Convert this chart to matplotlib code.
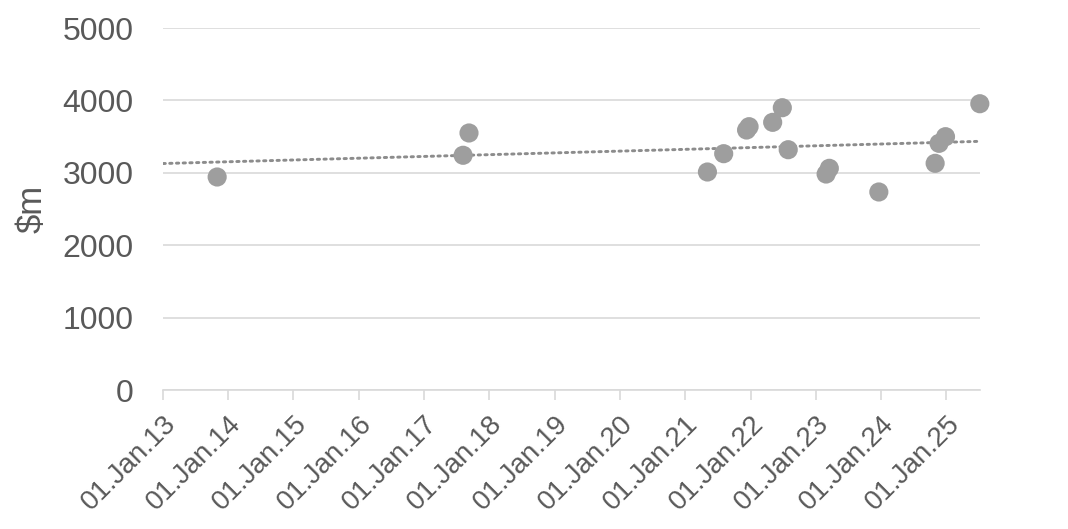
import matplotlib
matplotlib.use("Agg")
import matplotlib.pyplot as plt
import matplotlib.dates as mdates
import numpy as np
import pandas as pd

# data
dates = ["2013-10-31", "2017-08-07", "2017-09-09", "2021-05-05", "2021-08-04",
         "2021-12-10", "2021-12-24", "2022-05-05", "2022-06-28", "2022-07-31",
         "2023-02-28", "2023-03-18", "2023-12-20", "2024-10-30", "2024-11-21",
         "2024-12-27", "2025-07-07"]
values = [2942, 3242, 3550, 3011, 3264, 3591, 3637, 3697, 3899, 3319,
          2983, 3062, 2735, 3131, 3407, 3499, 3954]
x_start = "2013-01-01"
x_end = "2025-07-08"
y_ticks = [0, 1000, 2000, 3000, 4000, 5000]

plt.rcParams['font.family'] = ['Liberation Sans', 'DejaVu Sans']
text_col = '#595959'
grid_col = '#d9d9d9'

x = mdates.date2num(pd.to_datetime(dates))
y = np.array(values)
x0, x1 = mdates.date2num(pd.to_datetime([x_start, x_end]))

fig = plt.figure(figsize=(10.68, 5.29), dpi=100)
ax = fig.add_axes([163/1068, 1-390/529, (980-163)/1068, (390-28)/529])

# linear trendline
k, b = np.polyfit(x, y, 1)
tx = np.array([x0, x1])
ax.plot(tx, k*tx + b, color='#8c8c8c', lw=2.1, linestyle=(0, (0.8, 1.5)),
        dash_capstyle='round', zorder=2)

ax.scatter(x, y, s=190, color='#9e9e9e', edgecolors='none', zorder=3, clip_on=False)

ax.set_xlim(x0, x1)
ax.set_ylim(0, 5000)
ax.set_yticks(y_ticks)
ax.yaxis.grid(True, color=grid_col, lw=1.2)
ax.set_axisbelow(True)

ax.xaxis.set_major_locator(mdates.YearLocator())
ax.xaxis.set_major_formatter(mdates.DateFormatter('%d.%b.%y'))
for lab in ax.get_xticklabels():
    lab.set_rotation(45)
    lab.set_ha('right')
    lab.set_rotation_mode('anchor')

ax.tick_params(axis='x', colors=grid_col, length=7, width=1.2, labelsize=20,
               labelcolor=text_col, pad=8)
ax.tick_params(axis='y', length=0, labelsize=23, labelcolor=text_col, pad=21)

for s in ['top', 'right', 'left']:
    ax.spines[s].set_visible(False)
ax.spines['bottom'].set_color(grid_col)
ax.spines['bottom'].set_linewidth(1.2)

ax.set_ylabel('$m', fontsize=25, color=text_col, labelpad=10)

fig.savefig('out.png', dpi=100)
